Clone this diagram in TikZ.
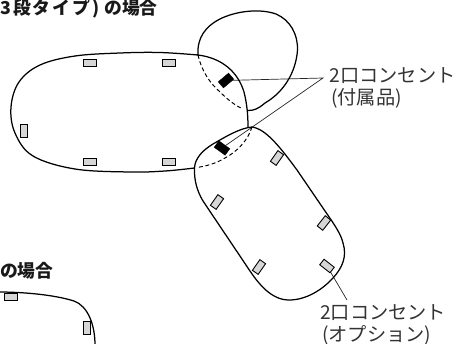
\documentclass[tikz,border=0pt]{standalone}
\usepackage{fontspec}
\setmainfont{Noto Sans CJK JP}
\usetikzlibrary{backgrounds}
\definecolor{sockgray}{gray}{0.84}
\tikzset{
  outline/.style={line width=1.25pt,line join=round,line cap=round,black},
  hidden/.style={line width=0.95pt,dash pattern=on 4pt off 2.6pt,black},
  leader/.style={line width=0.7pt,black!85},
  sockA/.style={draw=black,fill=sockgray,line width=0.9pt,minimum width=13pt,minimum height=7pt,inner sep=0pt,outer sep=0pt,shape=rectangle},
  sockB/.style={draw=black,fill=black,minimum width=13.5pt,minimum height=8pt,inner sep=0pt,outer sep=0pt,shape=rectangle},
  lbl/.style={font=\fontsize{19.2}{20}\selectfont,text=black!80,anchor=west,inner sep=0pt},
  head/.style={font=\fontsize{17.8}{18}\bfseries\selectfont,text=black!90,anchor=west,inner sep=0pt},
}
\begin{document}
\begin{tikzpicture}[x=1pt,y=-1pt]
\useasboundingbox (0,0) rectangle (458,343);
\clip (0,0) rectangle (458,343);
% main seat
\draw[outline] plot[smooth,tension=0.6] coordinates {(198,55) (160,52.5) (120,53) (75,56) (40,65) (19,82) (11,107) (15,133) (33,156) (75,169) (130,172) (165,171) (194.5,168)};
\draw[outline] (198,55) .. controls (222,58) and (238,72) .. (244,92) .. controls (247,104) and (248,115) .. (248,127);
% upper seat
\draw[outline] (198,55) .. controls (197,38) and (205,26) .. (222,18) .. controls (240,10) and (262,9) .. (276,14) .. controls (290,20) and (298,34) .. (297.5,50) .. controls (296,72) and (284,92) .. (265,103) .. controls (258,109) and (254,110.5) .. (248,110.5);
\draw[hidden] (198,55) .. controls (202,72) and (210,83) .. (220,92) .. controls (228,100) and (236,106) .. (243,109);
% lower seat
\draw[outline] (252,127) .. controls (240,128) and (225,137) .. (213,144) .. controls (203,150) and (195,158) .. (194.5,168) .. controls (194,180) and (197,191) .. (203,201) -- (248,268) .. controls (259,285) and (272,300) .. (289,300) .. controls (306,300) and (322,290) .. (333,278) .. controls (343,267) and (347,256) .. (343,243) .. controls (341,234) and (334,224) .. (325,211) -- (297,170) .. controls (280,147) and (266,129) .. (252,127);
\draw[hidden] (252,127) .. controls (248,140) and (238,151) .. (225,158) .. controls (215,164) and (206,166) .. (197,167.5);
% bottom seat fragment
\draw[outline] (-2,292) .. controls (25,292) and (55,295) .. (74,301) .. controls (88,306) and (95,325) .. (95,345);
% sockets
\node[sockA] (s1) at (89.5,63) {};
\node[sockA] (s2) at (169,63) {};
\node[sockA] (s3) at (89.5,161.5) {};
\node[sockA] (s4) at (169,161.5) {};
\node[sockA,rotate=90] (s5) at (24,131) {};
\node[sockA,rotate=55] (o1) at (277,158) {};
\node[sockA,rotate=55] (o2) at (217,202) {};
\node[sockA,rotate=52] (o3) at (324,223) {};
\node[sockA,rotate=55] (o4) at (259,267) {};
\node[sockA,rotate=-38] (o5) at (327,266) {};
\node[sockA] (s6) at (10.5,297) {};
\node[sockA,rotate=90] (s7) at (86.5,328) {};
\node[sockB,rotate=40] (b1) at (226,80.5) {};
\node[sockB,rotate=-36] (b2) at (222,148) {};
% labels
\node[lbl] (t1) at (329.5,76) {2口コンセント};
\node[lbl] (t2) at (331,98.5) {(付属品)};
\node[lbl] (t3) at (320,312.5) {2口コンセント};
\node[lbl] (t4) at (322,335.5) {(オプション)};
\node[head] (h1) at (0,9) {3\hspace{2pt}段\hspace{2pt}タ\hspace{2pt}イ\hspace{2pt}プ\hspace{2pt})\hspace{5pt}の場合};
\node[head] (h2) at (0,271) {の場合};
\coordinate (j1) at (323,78);
\coordinate (j2) at (347,300);
\begin{pgfonlayer}{background}
\draw[leader] (b1) -- (j1) -- (b2);
\draw[leader] (o5) -- (j2);
\end{pgfonlayer}
\end{tikzpicture}
\end{document}
